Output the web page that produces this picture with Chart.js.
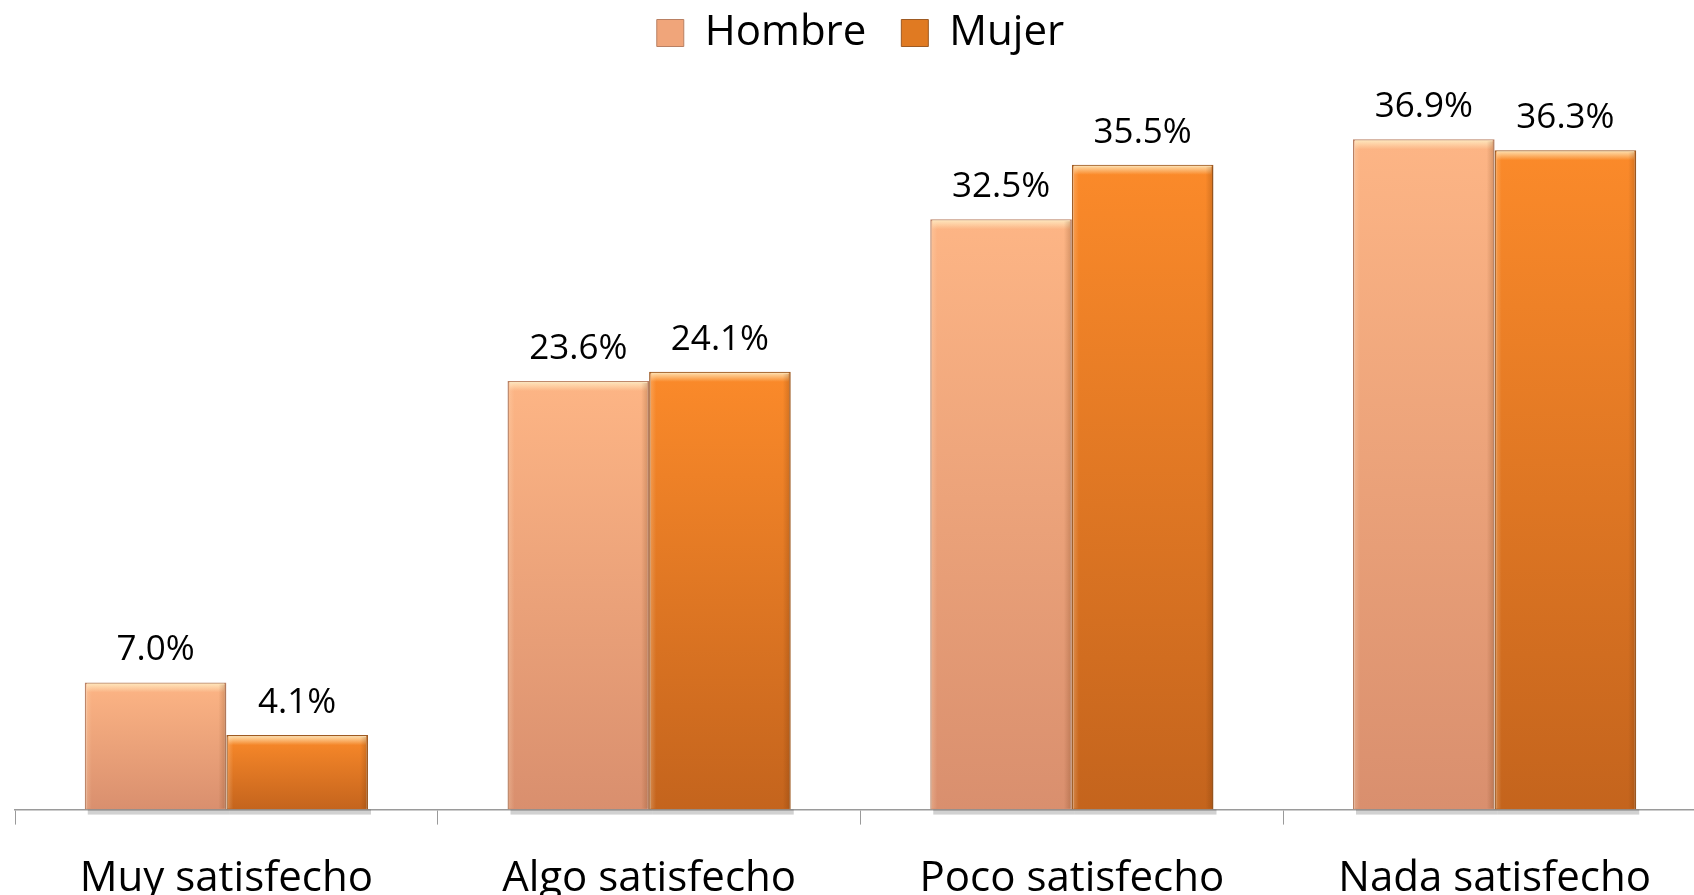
<!DOCTYPE html>
<html>
<head>
<meta charset="utf-8">
<script src="https://cdn.jsdelivr.net/npm/chart.js@4"></script>
<style>
  html, body { margin: 0; padding: 0; background: #fff; overflow: hidden; }
  #wrap { width: 1694px; height: 895px; overflow: hidden; }
</style>
</head>
<body>
<div id="wrap"><canvas id="chart" width="1720" height="895"></canvas></div>
<script>
// Datos del gráfico
const categorias = ['Muy satisfecho', 'Algo satisfecho', 'Poco satisfecho', 'Nada satisfecho'];
const hombre = [7.0, 23.6, 32.5, 36.9];
const mujer = [4.1, 24.1, 35.5, 36.3];

const FONT = '"Open Sans", "Noto Sans", sans-serif';

// Degradado vertical por barra (arriba claro, abajo oscuro)
function barGradient(ctx, top, bottom) {
  const chart = ctx.chart;
  if (!chart.chartArea) return top;
  const y = chart.scales.y;
  const v = ctx.parsed ? ctx.parsed.y : 0;
  const y0 = y.getPixelForValue(v);
  const y1 = y.getPixelForValue(0);
  const g = chart.ctx.createLinearGradient(0, y0, 0, y1);
  g.addColorStop(0, top);
  g.addColorStop(1, bottom);
  return g;
}

// Leyenda con altura fija para dejar espacio sobre las barras
const legendHeight = {
  id: 'legendHeight',
  beforeInit(chart) {
    const fit = chart.legend.fit;
    chart.legend.fit = function () {
      fit.bind(chart.legend)();
      this.height = 106;
    };
  }
};

// Efecto de bisel y sombra en las barras
const bevelPlugin = {
  id: 'bevel',
  beforeDatasetsDraw(chart) {
    const c = chart.ctx;
    chart.data.datasets.forEach((ds, i) => {
      chart.getDatasetMeta(i).data.forEach(bar => {
        const left = bar.x - bar.width / 2;
        c.save();
        c.fillStyle = 'rgba(0,0,0,0.18)';
        c.fillRect(left + 3, bar.base, bar.width, 5);
        c.restore();
      });
    });
  },
  afterDatasetsDraw(chart) {
    const c = chart.ctx;
    chart.data.datasets.forEach((ds, i) => {
      chart.getDatasetMeta(i).data.forEach(bar => {
        const left = bar.x - bar.width / 2;
        const w = bar.width;
        const top = bar.y;
        c.save();
        // borde superior claro
        let g = c.createLinearGradient(0, top, 0, top + 10);
        g.addColorStop(0, 'rgba(255,240,200,0.9)');
        g.addColorStop(1, 'rgba(255,240,200,0)');
        c.fillStyle = g;
        c.fillRect(left + 2, top + 1, w - 4, 10);
        // borde derecho oscuro
        g = c.createLinearGradient(left + w - 8, 0, left + w, 0);
        g.addColorStop(0, 'rgba(90,40,0,0)');
        g.addColorStop(1, 'rgba(90,40,0,0.25)');
        c.fillStyle = g;
        c.fillRect(left + w - 8, top + 2, 7, bar.base - top - 3);
        // borde izquierdo claro
        g = c.createLinearGradient(left, 0, left + 7, 0);
        g.addColorStop(0, 'rgba(255,230,200,0.3)');
        g.addColorStop(1, 'rgba(255,230,200,0)');
        c.fillStyle = g;
        c.fillRect(left + 1, top + 2, 7, bar.base - top - 3);
        c.restore();
      });
    });
  }
};

// Etiquetas de valor encima de cada barra
const valueLabels = {
  id: 'valueLabels',
  afterDatasetsDraw(chart) {
    const c = chart.ctx;
    c.save();
    c.font = '35px ' + FONT;
    c.fillStyle = '#000';
    c.textAlign = 'center';
    c.textBaseline = 'middle';
    chart.data.datasets.forEach((ds, i) => {
      chart.getDatasetMeta(i).data.forEach((bar, j) => {
        c.fillText(ds.data[j].toFixed(1) + '%', bar.x, bar.y - 32);
      });
    });
    c.restore();
  }
};

new Chart(document.getElementById('chart'), {
  type: 'bar',
  data: {
    labels: categorias,
    datasets: [
      {
        label: 'Hombre',
        data: hombre,
        backgroundColor: ctx => barGradient(ctx, '#FDB585', '#D98F6E'),
        borderColor: '#B98063',
        borderWidth: 1.5,
        legendColor: '#F0A57A'
      },
      {
        label: 'Mujer',
        data: mujer,
        backgroundColor: ctx => barGradient(ctx, '#FB8A2A', '#C4641D'),
        borderColor: '#9E5A22',
        borderWidth: 1.5,
        legendColor: '#E07A22'
      }
    ]
  },
  options: {
    responsive: false,
    devicePixelRatio: 1,
    animation: false,
    layout: { padding: { left: 15, right: 14, top: -23, bottom: -38 } },
    datasets: {
      bar: { barPercentage: 1, categoryPercentage: 0.67 }
    },
    plugins: {
      tooltip: { enabled: false },
      legend: {
        position: 'top',
        labels: {
          font: { family: FONT, size: 42 },
          color: '#000',
          boxWidth: 27,
          boxHeight: 27,
          padding: 35,
          generateLabels(chart) {
            return chart.data.datasets.map((ds, i) => ({
              text: ds.label,
              fillStyle: ds.legendColor,
              strokeStyle: ds.borderColor,
              lineWidth: 1,
              datasetIndex: i,
              fontColor: '#000'
            }));
          }
        }
      }
    },
    scales: {
      x: {
        grid: { drawOnChartArea: false, drawTicks: true, tickLength: 15, color: '#9a9a9a' },
        border: { display: true, color: '#9a9a9a', width: 1.5 },
        ticks: { font: { family: FONT, size: 42 }, color: '#000', padding: 29 }
      },
      y: {
        display: false,
        min: 0,
        max: 40
      }
    }
  },
  plugins: [legendHeight, bevelPlugin, valueLabels]
});
</script>
</body>
</html>
